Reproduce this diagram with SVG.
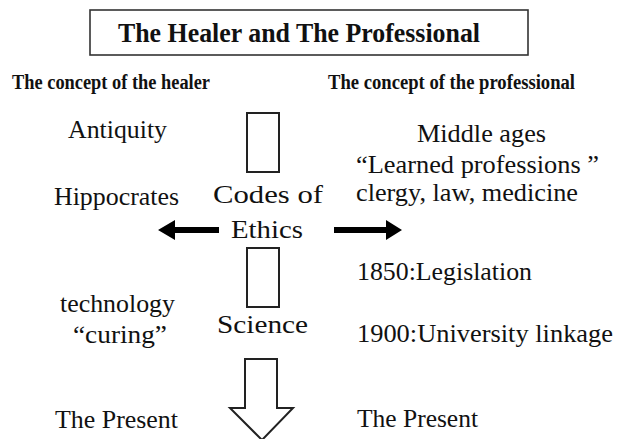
<svg xmlns="http://www.w3.org/2000/svg" width="617" height="439" viewBox="0 0 617 439">
<style>
text{font-family:"Liberation Serif","Times New Roman",serif;fill:#111;}
.b{font-weight:bold;}
.r{font-size:26px;}
.box{fill:#fff;stroke:#222;stroke-width:2;}
.ar{fill:#000;stroke:none;}
</style>
<rect width="617" height="439" fill="#fff"/>
<g id="title">
<rect x="90" y="10" width="438" height="45" fill="#fff" stroke="#333" stroke-width="1.6"/>
<text class="b" x="118" y="42" font-size="28" textLength="362" lengthAdjust="spacingAndGlyphs">The Healer and The Professional</text>
</g>
<g id="healer-heading"><text class="b" x="12" y="89" font-size="20" textLength="198" lengthAdjust="spacingAndGlyphs">The concept of the healer</text></g>
<g id="professional-heading"><text class="b" x="328" y="89" font-size="20" textLength="247" lengthAdjust="spacingAndGlyphs">The concept of the professional</text></g>
<g id="antiquity"><text class="r" x="68" y="138" textLength="99" lengthAdjust="spacingAndGlyphs">Antiquity</text></g>
<g id="hippocrates"><text class="r" x="54" y="205" textLength="125" lengthAdjust="spacingAndGlyphs">Hippocrates</text></g>
<g id="technology"><text class="r" x="60" y="312" textLength="115" lengthAdjust="spacingAndGlyphs">technology</text>
<text class="r" x="73" y="343" textLength="94" lengthAdjust="spacingAndGlyphs">“curing”</text></g>
<g id="present-left"><text class="r" x="55" y="428" textLength="123" lengthAdjust="spacingAndGlyphs">The Present</text></g>
<g id="upper-box"><rect class="box" x="247" y="113" width="32" height="59"/></g>
<g id="codes"><text class="r" x="213" y="203" textLength="110" lengthAdjust="spacingAndGlyphs">Codes of</text>
<text class="r" x="231" y="238" textLength="72" lengthAdjust="spacingAndGlyphs">Ethics</text></g>
<g id="lower-box"><rect class="box" x="247" y="248" width="32" height="59"/></g>
<g id="science"><text class="r" x="217" y="333" textLength="91" lengthAdjust="spacingAndGlyphs">Science</text></g>
<g id="middle-ages"><text class="r" x="417" y="142" textLength="129" lengthAdjust="spacingAndGlyphs">Middle ages</text></g>
<g id="learned"><text class="r" x="356" y="173" textLength="243" lengthAdjust="spacingAndGlyphs">“Learned professions  ”</text>
<text class="r" x="356" y="201" textLength="222" lengthAdjust="spacingAndGlyphs">clergy, law, medicine</text></g>
<g id="y1850"><text class="r" x="357" y="280" textLength="175" lengthAdjust="spacingAndGlyphs">1850:Legislation</text></g>
<g id="y1900"><text class="r" x="357" y="342" textLength="256" lengthAdjust="spacingAndGlyphs">1900:University  linkage</text></g>
<g id="present-right"><text class="r" x="357" y="427" textLength="121" lengthAdjust="spacingAndGlyphs">The Present</text></g>
<g id="connectors">
<polygon class="ar" points="158,230 175,220 175,227 219,227 219,233 175,233 175,240"/>
<polygon class="ar" points="402,230 386,220 386,227 334,227 334,233 386,233 386,240"/>
<polygon points="245,359 277,359 277,408 293,408 262,440 230,408 245,408" fill="#fff" stroke="#222" stroke-width="2"/>
</g>
</svg>
